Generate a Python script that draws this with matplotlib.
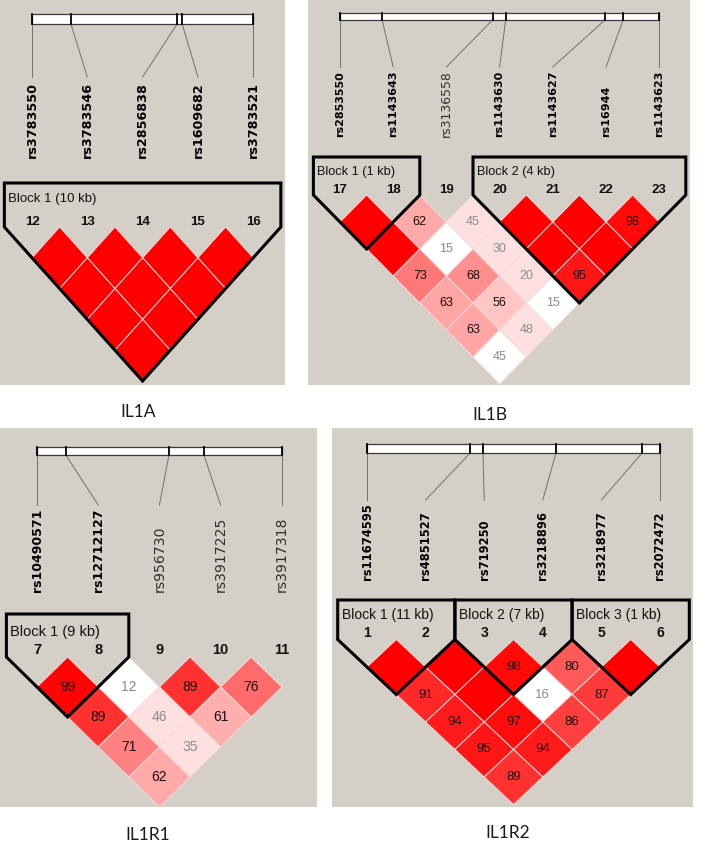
import matplotlib
matplotlib.use("Agg")
import matplotlib.pyplot as plt
from matplotlib.patches import Polygon, Rectangle

# ---------------- data ----------------
# IL1A
IL1A_SNPS = ["rs3783550", "rs3783546", "rs2856838", "rs1609682", "rs3783521"]
IL1A_NUMS = [12, 13, 14, 15, 16]
IL1A_MAP = [0.0, 0.176, 0.656, 0.679, 1.0]      # relative position on gene bar
IL1A_BOLD = [1, 1, 1, 1, 1]
IL1A_DPRIME = [[100, 100, 100, 100],             # rows = SNP distance 1, 2, ...
               [100, 100, 100],
               [100, 100],
               [100]]
IL1A_WEAK = []                                   # pairs with LOD < 2
IL1A_BLOCKS = [(0, 4, "Block 1 (10 kb)")]

# IL1B
IL1B_SNPS = ["rs2853550", "rs1143643", "rs3136558", "rs1143630",
             "rs1143627", "rs16944", "rs1143623"]
IL1B_NUMS = [17, 18, 19, 20, 21, 22, 23]
IL1B_MAP = [0.0, 0.132, 0.478, 0.519, 0.830, 0.887, 1.0]
IL1B_BOLD = [1, 1, 0, 1, 1, 1, 1]
IL1B_DPRIME = [[100, 62, 45, 100, 100, 98],
               [100, 15, 30, 100, 100],
               [73, 68, 20, 95],
               [63, 56, 15],
               [63, 48],
               [45]]
IL1B_WEAK = [(1, 3), (2, 6), (0, 6)]
IL1B_BLOCKS = [(0, 1, "Block 1 (1 kb)"), (3, 6, "Block 2 (4 kb)")]

# IL1R1
IL1R1_SNPS = ["rs10490571", "rs12712127", "rs956730", "rs3917225", "rs3917318"]
IL1R1_NUMS = [7, 8, 9, 10, 11]
IL1R1_MAP = [0.0, 0.118, 0.539, 0.682, 1.0]
IL1R1_BOLD = [1, 1, 0, 0, 0]
IL1R1_DPRIME = [[99, 12, 89, 76],
                [89, 46, 61],
                [71, 35],
                [62]]
IL1R1_WEAK = [(1, 2)]
IL1R1_BLOCKS = [(0, 1, "Block 1 (9 kb)")]

# IL1R2
IL1R2_SNPS = ["rs11674595", "rs4851527", "rs719250", "rs3218896",
              "rs3218977", "rs2072472"]
IL1R2_NUMS = [1, 2, 3, 4, 5, 6]
IL1R2_MAP = [0.0, 0.352, 0.396, 0.645, 0.939, 1.0]
IL1R2_BOLD = [1, 1, 1, 1, 1, 1]
IL1R2_DPRIME = [[100, 100, 98, 80, 100],
                [91, 100, 16, 87],
                [94, 97, 86],
                [95, 94],
                [89]]
IL1R2_WEAK = [(2, 4)]
IL1R2_BLOCKS = [(0, 1, "Block 1 (11 kb)"), (2, 3, "Block 2 (7 kb)"),
                (4, 5, "Block 3 (1 kb)")]

TITLES = ["IL1A", "IL1B", "IL1R1", "IL1R2"]

# ---------------- layout (figure pixels) ----------------
W, H = 708, 851
PANEL_BG = "#d4d0c8"
HV_FONT = ["Liberation Sans", "DejaVu Sans"]

LAYOUTS = [
    dict(rect=(0, 0, 285, 385), x0=32, sx=55.3, bar=(14, 24), conn=77, lab=158,
         lab_fs=9.2, btop=183, blab=199, num=222, ytop=227, h=30.8,
         block_fs=9.5, num_fs=9.5, val_fs=9, title=(138, 412)),
    dict(rect=(308, 0, 690, 385), x0=340, sx=53.2, bar=(12.7, 20), conn=67, lab=137,
         lab_fs=8.0, btop=157, blab=172, num=190, ytop=195, h=27.0,
         block_fs=9.2, num_fs=9.5, val_fs=9, title=(490, 415)),
    dict(rect=(0, 428, 317, 807), x0=37, sx=61.2, bar=(447, 455), conn=505, lab=592,
         lab_fs=9.0, btop=614, blab=632, num=650, ytop=657, h=30.0,
         block_fs=10.5, num_fs=10.5, val_fs=10, title=(148, 835)),
    dict(rect=(332, 428, 693, 807), x0=367, sx=58.6, bar=(444, 453), conn=500, lab=580,
         lab_fs=8.3, btop=600, blab=615, num=633, ytop=639.5, h=27.5,
         block_fs=10, num_fs=10, val_fs=9.5, title=(508, 833)),
]


def cell_color(d, weak):
    # Haploview standard D'/LOD scheme
    if weak:
        return (1.0, 1.0, 1.0)
    if d >= 100:
        return (1.0, 0.0, 0.0)
    if d < 50:
        return (1.0, 224 / 255, 224 / 255)
    g = (255 - 32) * 2 * (1 - d / 100.0) / 255
    return (1.0, g, g)


def draw_panel(fig, lay, snps, nums, gmap, bold, dprime, weak, blocks):
    l, t, r, b = lay["rect"]
    ax = fig.add_axes([l / W, 1 - b / H, (r - l) / W, (b - t) / H])
    ax.set_xlim(l, r)
    ax.set_ylim(b, t)
    ax.set_facecolor(PANEL_BG)
    ax.set_xticks([])
    ax.set_yticks([])
    for s in ax.spines.values():
        s.set_visible(False)

    x0, sx, h, ytop = lay["x0"], lay["sx"], lay["h"], lay["ytop"]
    n = len(snps)
    cols = [x0 + k * sx for k in range(n)]

    # gene map bar
    y1, y2 = lay["bar"]
    bl, br = cols[0], cols[-1]
    ax.add_patch(Rectangle((bl, y1), br - bl, y2 - y1, fc="white",
                           ec="#3a3a3a", lw=0.9, zorder=2))
    for k in range(n):
        xg = bl + gmap[k] * (br - bl)
        ax.plot([xg, xg], [y1, y2], color="black", lw=1.3, zorder=3)
        ax.plot([xg, cols[k]], [y2, lay["conn"]], color="#707070", lw=0.7)
        if bold[k]:
            ax.text(cols[k], lay["lab"], snps[k], rotation=90, ha="center", va="bottom",
                    fontsize=lay["lab_fs"], family="DejaVu Sans", fontweight="bold",
                    color="black")
        else:
            ax.text(cols[k], lay["lab"], snps[k], rotation=90, ha="center", va="bottom",
                    fontsize=lay["lab_fs"] * 1.12, family="DejaVu Sans",
                    color="#2e2e2e")
        ax.text(cols[k], lay["num"], str(nums[k]), ha="center", va="center",
                fontsize=lay["num_fs"], family=HV_FONT, fontweight="bold",
                color="#111111")

    # LD cells
    for d, row in enumerate(dprime, start=1):
        for i, val in enumerate(row):
            j = i + d
            cx = x0 + (i + j) / 2 * sx
            cy = ytop + d * h
            is_weak = (i, j) in weak
            verts = [(cx, cy - h), (cx + sx / 2, cy), (cx, cy + h), (cx - sx / 2, cy)]
            ax.add_patch(Polygon(verts, closed=True, fc=cell_color(val, is_weak),
                                 ec="#f3dada", lw=0.7, zorder=2))
            if val < 100:
                tc = "#8a8a8a" if (is_weak or val < 50) else "#1c0a0a"
                ax.text(cx, cy, str(val), ha="center", va="center",
                        fontsize=lay["val_fs"], family=HV_FONT, color=tc, zorder=4)

    # haplotype blocks
    for a, z, label in blocks:
        xl = x0 + (a - 0.5) * sx
        xr = x0 + (z + 0.5) * sx
        xm = x0 + (a + z) / 2 * sx
        ybot = ytop + (z - a + 1) * h
        pts = [(xl, lay["btop"]), (xr, lay["btop"]), (xr, ytop), (xm, ybot), (xl, ytop)]
        ax.add_patch(Polygon(pts, closed=True, fill=False, ec="black", lw=2.2,
                             joinstyle="miter", zorder=5))
        ax.text(xl + 4, lay["blab"], label, ha="left", va="center",
                fontsize=lay["block_fs"], family=HV_FONT, color="#111111")
    return ax


fig = plt.figure(figsize=(W / 100, H / 100), dpi=100)
fig.patch.set_facecolor("white")

panels = [
    (IL1A_SNPS, IL1A_NUMS, IL1A_MAP, IL1A_BOLD, IL1A_DPRIME, IL1A_WEAK, IL1A_BLOCKS),
    (IL1B_SNPS, IL1B_NUMS, IL1B_MAP, IL1B_BOLD, IL1B_DPRIME, IL1B_WEAK, IL1B_BLOCKS),
    (IL1R1_SNPS, IL1R1_NUMS, IL1R1_MAP, IL1R1_BOLD, IL1R1_DPRIME, IL1R1_WEAK, IL1R1_BLOCKS),
    (IL1R2_SNPS, IL1R2_NUMS, IL1R2_MAP, IL1R2_BOLD, IL1R2_DPRIME, IL1R2_WEAK, IL1R2_BLOCKS),
]

for lay, p, title in zip(LAYOUTS, panels, TITLES):
    draw_panel(fig, lay, *p)
    tx, ty = lay["title"]
    fig.text(tx / W, 1 - ty / H, title, ha="center", va="center",
             fontsize=12.5, family=["Lato", "DejaVu Sans"], color="#1a1a1a")

fig.savefig("out.png", dpi=100, facecolor="white")
